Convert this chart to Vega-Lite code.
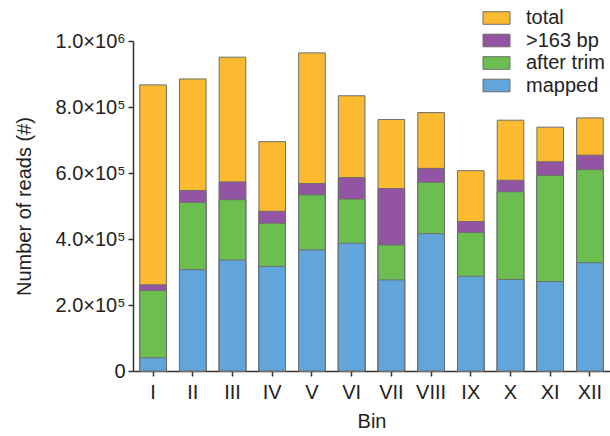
{
  "$schema": "https://vega.github.io/schema/vega-lite/v6.json",
  "width": 477,
  "height": 330,
  "autosize": {"type": "none"},
  "padding": {"left": 133, "top": 41, "right": 0, "bottom": 65},
  "background": "white",
  "config": {
    "font": "Liberation Sans",
    "view": {"stroke": null},
    "axis": {"labelFont": "Liberation Sans", "titleFont": "Liberation Sans", "labelColor": "#222", "titleColor": "#222", "domainColor": "#333", "tickColor": "#333", "grid": false}
  },
  "data": {
    "values": [
      {"bin": "I", "series": "total", "reads": 867000},
      {"bin": "II", "series": "total", "reads": 885000},
      {"bin": "III", "series": "total", "reads": 951000},
      {"bin": "IV", "series": "total", "reads": 695000},
      {"bin": "V", "series": "total", "reads": 964000},
      {"bin": "VI", "series": "total", "reads": 834000},
      {"bin": "VII", "series": "total", "reads": 762000},
      {"bin": "VIII", "series": "total", "reads": 783000},
      {"bin": "IX", "series": "total", "reads": 607000},
      {"bin": "X", "series": "total", "reads": 760000},
      {"bin": "XI", "series": "total", "reads": 739000},
      {"bin": "XII", "series": "total", "reads": 767000},
      {"bin": "I", "series": ">163 bp", "reads": 261000},
      {"bin": "II", "series": ">163 bp", "reads": 547000},
      {"bin": "III", "series": ">163 bp", "reads": 573000},
      {"bin": "IV", "series": ">163 bp", "reads": 484000},
      {"bin": "V", "series": ">163 bp", "reads": 568000},
      {"bin": "VI", "series": ">163 bp", "reads": 586000},
      {"bin": "VII", "series": ">163 bp", "reads": 553000},
      {"bin": "VIII", "series": ">163 bp", "reads": 614000},
      {"bin": "IX", "series": ">163 bp", "reads": 453000},
      {"bin": "X", "series": ">163 bp", "reads": 578000},
      {"bin": "XI", "series": ">163 bp", "reads": 634000},
      {"bin": "XII", "series": ">163 bp", "reads": 654000},
      {"bin": "I", "series": "after trim", "reads": 244000},
      {"bin": "II", "series": "after trim", "reads": 511000},
      {"bin": "III", "series": "after trim", "reads": 519000},
      {"bin": "IV", "series": "after trim", "reads": 448000},
      {"bin": "V", "series": "after trim", "reads": 534000},
      {"bin": "VI", "series": "after trim", "reads": 521000},
      {"bin": "VII", "series": "after trim", "reads": 382000},
      {"bin": "VIII", "series": "after trim", "reads": 572000},
      {"bin": "IX", "series": "after trim", "reads": 420000},
      {"bin": "X", "series": "after trim", "reads": 543000},
      {"bin": "XI", "series": "after trim", "reads": 593000},
      {"bin": "XII", "series": "after trim", "reads": 610000},
      {"bin": "I", "series": "mapped", "reads": 40000},
      {"bin": "II", "series": "mapped", "reads": 307000},
      {"bin": "III", "series": "mapped", "reads": 336000},
      {"bin": "IV", "series": "mapped", "reads": 317000},
      {"bin": "V", "series": "mapped", "reads": 367000},
      {"bin": "VI", "series": "mapped", "reads": 387000},
      {"bin": "VII", "series": "mapped", "reads": 276000},
      {"bin": "VIII", "series": "mapped", "reads": 416000},
      {"bin": "IX", "series": "mapped", "reads": 287000},
      {"bin": "X", "series": "mapped", "reads": 277000},
      {"bin": "XI", "series": "mapped", "reads": 271000},
      {"bin": "XII", "series": "mapped", "reads": 328000}
    ]
  },
  "mark": {"type": "bar", "stroke": "#6e6e6e", "strokeWidth": 1},
  "encoding": {
    "x": {
      "field": "bin", "type": "ordinal",
      "sort": ["I","II","III","IV","V","VI","VII","VIII","IX","X","XI","XII"],
      "scale": {"paddingInner": 0.33, "paddingOuter": 0.17},
      "axis": {"title": "Bin", "labelAngle": 0, "labelFontSize": 20, "titleFontSize": 20, "titleFontWeight": "normal", "tickSize": 5, "labelPadding": 6, "titlePadding": 9, "domainWidth": 1.5, "tickWidth": 1.5}
    },
    "y": {
      "field": "reads", "type": "quantitative", "stack": null,
      "scale": {"domain": [0, 1000000], "nice": false},
      "axis": {
        "title": "Number of reads (#)",
        "values": [0, 200000, 400000, 600000, 800000, 1000000],
        "labelExpr": "datum.value == 0 ? '0' : datum.value >= 1000000 ? format(datum.value/1000000, '.1f') + '×10⁶' : format(datum.value/100000, '.1f') + '×10⁵'",
        "labelFontSize": 20, "titleFontSize": 20, "titleFontWeight": "normal",
        "tickSize": 5, "labelPadding": 3, "titlePadding": 20, "domainWidth": 1.5, "tickWidth": 1.5
      }
    },
    "color": {
      "field": "series", "type": "nominal",
      "scale": {"domain": ["total", ">163 bp", "after trim", "mapped"], "range": ["#FBBA30", "#9254A3", "#6CBE50", "#62A5DA"]},
      "legend": {
        "title": null, "orient": "none", "legendX": 353.5, "legendY": -33,
        "symbolType": "M-1.5,-0.7H1.5V0.7H-1.5Z", "symbolSize": 324,
        "symbolStrokeColor": "#6e6e6e", "symbolStrokeWidth": 1, "symbolOpacity": 1,
        "labelFontSize": 20, "labelColor": "#222", "labelOffset": 19.5, "rowPadding": 2.5
      }
    }
  }
}
